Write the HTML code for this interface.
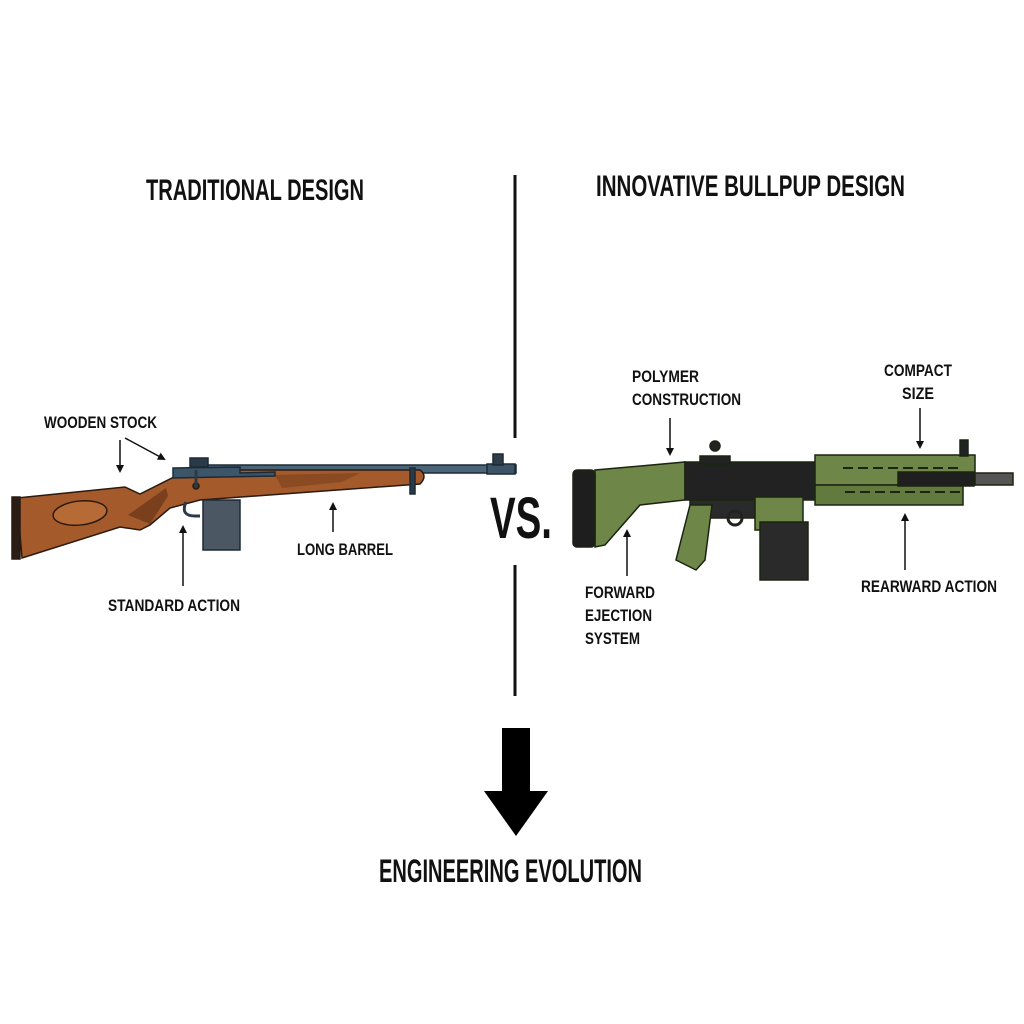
<!DOCTYPE html>
<html><head><meta charset="utf-8"><style>
html,body{margin:0;padding:0;background:#fff;}
svg{display:block}
text{font-family:"Liberation Sans",sans-serif;font-weight:bold;fill:#111;}
</style></head><body>
<svg width="1024" height="1024" viewBox="0 0 1024 1024" xmlns="http://www.w3.org/2000/svg">
<defs>
<marker id="ah" markerWidth="8" markerHeight="8" refX="6" refY="4" orient="auto" markerUnits="userSpaceOnUse"><path d="M0,0 L8,4 L0,8 Z" fill="#111"/></marker>
</defs>
<rect width="1024" height="1024" fill="#fff"/>

<!-- headings -->
<text x="146" y="200" font-size="30" textLength="218" lengthAdjust="spacingAndGlyphs">TRADITIONAL DESIGN</text>
<text x="596" y="196" font-size="30" textLength="309" lengthAdjust="spacingAndGlyphs">INNOVATIVE BULLPUP DESIGN</text>

<!-- divider -->
<line x1="515" y1="175" x2="515" y2="438" stroke="#111" stroke-width="3"/>
<line x1="515" y1="565" x2="515" y2="696" stroke="#111" stroke-width="3"/>
<text x="490" y="538" font-size="58" textLength="62" lengthAdjust="spacingAndGlyphs">VS.</text>

<!-- big arrow -->
<rect x="502" y="728" width="28" height="64" fill="#000"/>
<polygon points="484,791 548,791 516,836" fill="#000"/>
<text x="379" y="882" font-size="32" textLength="263" lengthAdjust="spacingAndGlyphs">ENGINEERING EVOLUTION</text>

<!-- LEFT RIFLE -->
<g stroke="#2a1a10" stroke-width="1.5">
  <!-- barrel -->
  <rect x="200" y="465" width="316" height="8" fill="#4a6478" stroke="#1d2a35"/>
  <rect x="487" y="464" width="28" height="10" fill="#3d5466" stroke="#1d2a35"/>
  <rect x="493" y="454" width="10" height="11" fill="#2d3d4a" stroke="#1d2a35"/>
  <!-- stock + forend -->
  <path d="M17,498 L125,487 L140,494 L172,478 L205,470 L420,470 Q428,476 420,484 L200,500 L170,508 L150,525 L140,530 L120,527 L22,558 Z" fill="#a45a2a"/>
  <path d="M150,524 L168,496 L166,488 L128,515 Z" fill="#7a3f1c" stroke="none"/>
  <path d="M275,475 L360,473 L342,482 L282,488 Z" fill="#8a4a22" stroke="none"/>
  <ellipse cx="80" cy="513" rx="27" ry="12" fill="#b66a35" transform="rotate(-6 80 513)"/>
  <rect x="12" y="497" width="8" height="62" fill="#2a1d15"/>
  <!-- receiver -->
  <path d="M173,468 L240,467 L240,473 L275,472 L275,476 L173,478 Z" fill="#3c5568" stroke="#1d2a35"/>
  <rect x="190" y="458" width="18" height="9" fill="#2a3a48" stroke="#1d2a35"/>
  <circle cx="196" cy="486" r="3" fill="#2a3a48"/>
  <line x1="196" y1="470" x2="196" y2="486" stroke="#2a3a48" stroke-width="3"/>
  <rect x="410" y="468" width="5" height="26" fill="#2a3a48" stroke="#1d2a35"/>
  <!-- magazine -->
  <rect x="203" y="500" width="37" height="50" fill="#4b5763" stroke="#1d2a35"/>
  <path d="M186,502 Q180,516 195,516 L200,516" fill="none" stroke="#2a3a48" stroke-width="3"/>
</g>

<!-- RIGHT RIFLE -->
<g stroke="#1b2410" stroke-width="1.5">
  <path d="M595,470 L685,462 L685,500 L640,505 L605,545 L595,547 Z" fill="#6e8748"/>
  <rect x="573" y="470" width="22" height="77" rx="4" fill="#1e1e1e"/>
  <rect x="685" y="462" width="132" height="38" fill="#222"/>
  <rect x="700" y="456" width="30" height="8" fill="#222"/>
  <circle cx="715" cy="446" r="5" fill="#222"/>
  <rect x="815" y="455" width="160" height="30" fill="#6e8748"/>
  <rect x="815" y="485" width="148" height="20" fill="#627a3e"/>
  <rect x="898" y="472" width="76" height="14" fill="#1f1f1f"/>
  <rect x="975" y="473" width="38" height="12" fill="#555"/>
  <rect x="960" y="440" width="8" height="16" fill="#222"/>
  <rect x="690" y="500" width="65" height="18" fill="#2a2a2a"/>
  <path d="M690,505 L712,505 L705,560 L696,570 L676,560 Z" fill="#6e8748"/>
  <rect x="755" y="497" width="48" height="33" fill="#6e8748"/>
  <rect x="760" y="522" width="48" height="58" fill="#2a2a2a"/>
  <circle cx="735" cy="518" r="7" fill="none" stroke="#222" stroke-width="3"/>
</g>
<g stroke="#1b2410" stroke-width="2">
  <line x1="843" y1="468" x2="960" y2="468" stroke-dasharray="10,5"/>
  <line x1="845" y1="492" x2="960" y2="492" stroke-dasharray="10,5"/>
</g>

<!-- callouts -->
<g font-size="17">
<text x="44" y="428" textLength="113" lengthAdjust="spacingAndGlyphs">WOODEN STOCK</text>
<text x="108" y="611" textLength="132" lengthAdjust="spacingAndGlyphs">STANDARD ACTION</text>
<text x="297" y="555" textLength="96" lengthAdjust="spacingAndGlyphs">LONG BARREL</text>
<text x="632" y="382" textLength="67" lengthAdjust="spacingAndGlyphs">POLYMER</text>
<text x="632" y="405" textLength="109" lengthAdjust="spacingAndGlyphs">CONSTRUCTION</text>
<text x="884" y="376" textLength="68" lengthAdjust="spacingAndGlyphs">COMPACT</text>
<text x="902" y="399" textLength="32" lengthAdjust="spacingAndGlyphs">SIZE</text>
<text x="585" y="598" textLength="70" lengthAdjust="spacingAndGlyphs">FORWARD</text>
<text x="585" y="621" textLength="67" lengthAdjust="spacingAndGlyphs">EJECTION</text>
<text x="585" y="644" textLength="55" lengthAdjust="spacingAndGlyphs">SYSTEM</text>
<text x="861" y="592" textLength="136" lengthAdjust="spacingAndGlyphs">REARWARD ACTION</text>
</g>
<g stroke="#111" stroke-width="1.5" marker-end="url(#ah)">
<line x1="120" y1="440" x2="120" y2="471"/>
<line x1="125" y1="438" x2="164" y2="459"/>
<line x1="183" y1="586" x2="183" y2="527"/>
<line x1="333" y1="532" x2="333" y2="504"/>
<line x1="670" y1="418" x2="670" y2="454"/>
<line x1="920" y1="408" x2="920" y2="447"/>
<line x1="627" y1="576" x2="627" y2="531"/>
<line x1="905" y1="570" x2="905" y2="515"/>
</g>
</svg>
</body></html>
